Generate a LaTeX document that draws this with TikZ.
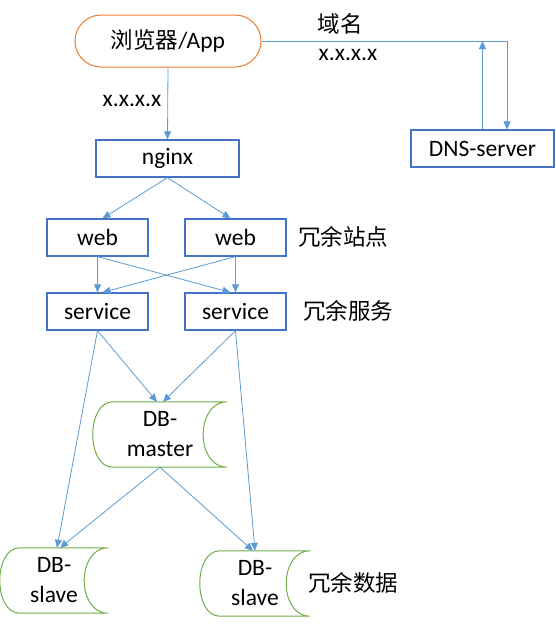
\documentclass[tikz,border=0pt]{standalone}
\usepackage{fontspec}
\setmainfont{Carlito}
\newfontfamily\cjk{Noto Sans CJK SC}
\usetikzlibrary{arrows.meta,shapes,calc}
\definecolor{boxblue}{RGB}{68,114,196}
\definecolor{lineblue}{RGB}{91,155,213}
\definecolor{apporange}{RGB}{237,125,49}
\definecolor{dbgreen}{RGB}{112,173,71}
\tikzstyle{box}=[rectangle,draw=boxblue,line width=1.2pt,minimum width=101pt,minimum height=37pt,inner sep=0pt]
\tikzstyle{appbox}=[rectangle,rounded corners=26pt,draw=apporange,line width=1pt,minimum width=186pt,minimum height=52pt,inner sep=0pt]
\tikzstyle{db}=[rectangle,minimum width=134pt,minimum height=65pt,inner sep=0pt,align=center]
\tikzstyle{dbline}=[draw=dbgreen,line width=1pt]
\tikzstyle{edge}=[draw,lineblue,line width=0.8pt,-{Triangle[length=8pt,width=7pt]}]
\tikzstyle{note}=[font=\fontsize{22.5}{30}\selectfont\cjk]

\begin{document}
\begin{tikzpicture}[x=1pt,y=-1pt,font=\fontsize{23.5}{30}\selectfont]
    \useasboundingbox (0,0) rectangle (555,627);

    \node[appbox] (app) at (168,41) {{\cjk\fontsize{22.5}{30}\selectfont 浏览器}/App};
    \node[box,minimum width=143pt] (nginx) at (167.5,158.5) {nginx};
    \node[box,minimum width=143pt] (dns) at (482.5,148.5) {DNS-server};

    \foreach \pos/ \name/ \txt in {{(97.5,237.5)/web1/web},{(235.5,237.5)/web2/web},
                                   {(97.5,311.5)/svc1/service},{(235.5,311.5)/svc2/service}}
        \node[box] (\name) at \pos {\txt};

    \node[db] (master) at (160,434.5) {DB-\\master};
    \node[db,minimum width=108pt] (slave1) at (54,580.5) {DB-\\slave};
    \node[db,minimum width=110pt] (slave2) at (255,583.5) {DB-\\slave};

    % storage outlines
    \foreach \n in {master,slave1,slave2}
        \path[dbline] ([xshift=20pt]\n.south west) .. controls +(-26.7pt,0) and +(-26.7pt,0) .. ([xshift=20pt]\n.north west)
            -- (\n.north east) .. controls +(-32pt,0) and +(-32pt,0) .. (\n.south east) -- cycle;

    % name lookup
    \draw[edge] (app.east) -| ([xshift=24.5pt]dns.north);
    \draw[edge] (dns.north) -- (dns.north |- app.east);
    \node[note] (domain) at (340,24) {域名};
    \node (ipdns) at (348,55) {x.x.x.x};

    \draw[edge] (app.south) -- (nginx.north);
    \node (ipapp) at (132,101) {x.x.x.x};

    % nginx to web, web to service
    \draw[edge] (nginx.south) -- ([xshift=5pt]web1.north);
    \draw[edge] (nginx.south) -- ([xshift=-5pt]web2.north);
    \draw[edge] (web1.south) -- (svc1.north);
    \draw[edge] (web1.south) -- ([xshift=-5pt]svc2.north);
    \draw[edge] (web2.south) -- (svc2.north);
    \draw[edge] (web2.south) -- ([xshift=5pt]svc1.north);

    % service to db
    \draw[edge] (svc1.south) -- ([xshift=-3pt]master.north);
    \draw[edge] (svc2.south) -- ([xshift=3pt]master.north);
    \draw[edge] (svc1.south) -- ([xshift=3pt]slave1.north);
    \draw[edge] (svc2.south) -- (slave2.north);
    \draw[edge] (master.south) -- ([xshift=6pt]slave1.north);
    \draw[edge] (master.south) -- ([xshift=-2pt]slave2.north);

    \node[note] (webnote) at (343,237) {冗余站点};
    \node[note] (svcnote) at (348,311) {冗余服务};
    \node[note] (dbnote) at (353,583) {冗余数据};
\end{tikzpicture}
\end{document}
